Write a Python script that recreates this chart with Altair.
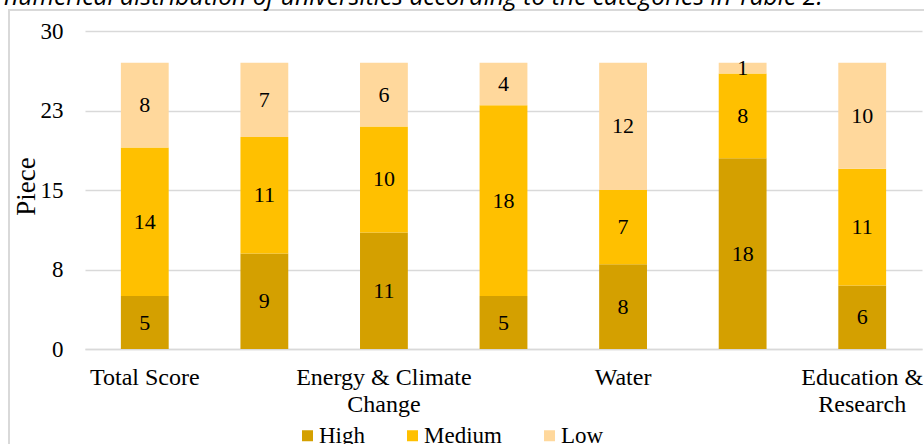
import json
import altair as alt
import pandas as pd

# ---- data ----
categories = [
    "Total Score",
    "Setting & Infrastructure",
    "Energy & Climate Change",
    "Waste",
    "Water",
    "Transportation",
    "Education & Research",
]
# axis label shown for each category ('' = skipped, '|' = line break)
axis_labels = [
    "Total Score",
    "",
    "Energy & Climate|Change",
    "",
    "Water",
    "",
    "Education &|Research",
]
levels = ["High", "Medium", "Low"]
high = [5, 9, 11, 5, 8, 18, 6]
medium = [14, 11, 10, 18, 7, 8, 11]
low = [8, 7, 6, 4, 12, 1, 10]
level_colors = ["#D4A000", "#FFC000", "#FFD89C"]
y_ticks = [0, 7.5, 15, 22.5, 30]
title_text = "numerical distribution of universities according to the categories in Table 2."

rows = []
for i, c in enumerate(categories):
    for r, (lv, vals) in enumerate(zip(levels, [high, medium, low])):
        rows.append({"category": c, "level": lv, "rank": r, "value": vals[i]})
df = pd.DataFrame(rows)

FONT = "Liberation Serif"
GRID = "#D9D9D9"

label_expr = ""
for c, lab in zip(categories, axis_labels):
    label_expr += f"datum.value === {json.dumps(c)} ? split({json.dumps(lab)}, '|') : "
label_expr += "''"

x_enc = alt.X(
    "category:N",
    sort=categories,
    scale=alt.Scale(paddingInner=0.6, paddingOuter=0.3),
    axis=alt.Axis(
        title=None,
        labelExpr=label_expr,
        labelAngle=0,
        labelFont=FONT,
        labelFontSize=24,
        labelColor="black",
        labelPadding=16,
        labelLineHeight=27,
        labelBaseline="top",
        ticks=False,
        domainColor=GRID,
        domainWidth=1.5,
        grid=False,
        labelOverlap=False,
    ),
)

base = alt.Chart(df)

bars = base.mark_bar().encode(
    x=x_enc,
    y=alt.Y(
        "value:Q",
        stack="zero",
        scale=alt.Scale(domain=[0, 30], nice=False),
        axis=alt.Axis(
            title="Piece",
            titleFont=FONT,
            titleFontSize=27,
            titleFontWeight="normal",
            titleColor="black",
            titleX=-45,
            titleY=155,
            titleAngle=270,
            titleBaseline="bottom",
            values=y_ticks,
            format=".0f",
            labelFont=FONT,
            labelFontSize=23,
            labelColor="black",
            labelPadding=22,
            ticks=False,
            domain=False,
            grid=True,
            gridColor=GRID,
            gridWidth=1.5,
        ),
    ),
    color=alt.Color(
        "level:N",
        sort=levels,
        scale=alt.Scale(domain=levels, range=level_colors),
        legend=alt.Legend(
            title=None,
            orient="none",
            direction="horizontal",
            legendX=211,
            legendY=393,
            symbolType="square",
            symbolSize=121,
            symbolStrokeWidth=0,
            labelFont=FONT,
            labelFontSize=23,
            labelColor="black",
            labelOffset=0,
            columnPadding=36,
            padding=0,
        ),
    ),
    order=alt.Order("rank:Q", sort="ascending"),
)

labels = base.transform_stack(
    stack="value",
    groupby=["category"],
    as_=["v0", "v1"],
    sort=[alt.SortField("rank", order="ascending")],
).transform_calculate(mid="(datum.v0 + datum.v1) / 2").mark_text(
    font=FONT, fontSize=22, color="black", baseline="middle", align="center"
).encode(
    x=alt.X("category:N", sort=categories),
    y=alt.Y("mid:Q"),
    text="value:Q",
)

frame = alt.Chart(pd.DataFrame({"a": [0]})).mark_rect(
    fillOpacity=0, stroke=GRID, strokeWidth=2
).encode(
    x=alt.value(-76), x2=alt.value(870), y=alt.value(-21), y2=alt.value(430)
)

title = alt.Chart(pd.DataFrame({"t": [title_text]})).mark_text(
    font="Open Sans", fontSize=24.7, fontStyle="italic", color="black",
    align="left", baseline="alphabetic",
).encode(x=alt.value(-81), y=alt.value(-26), text="t:N")

chart = alt.layer(frame, bars, labels, title).properties(
    width=837,
    height=318,
    padding={"left": 85, "top": 31, "right": 2, "bottom": 95},
    autosize="none",
    background="white",
).configure_view(stroke=None)

chart.save("out.html", embed_options={"renderer": "svg", "actions": False})
